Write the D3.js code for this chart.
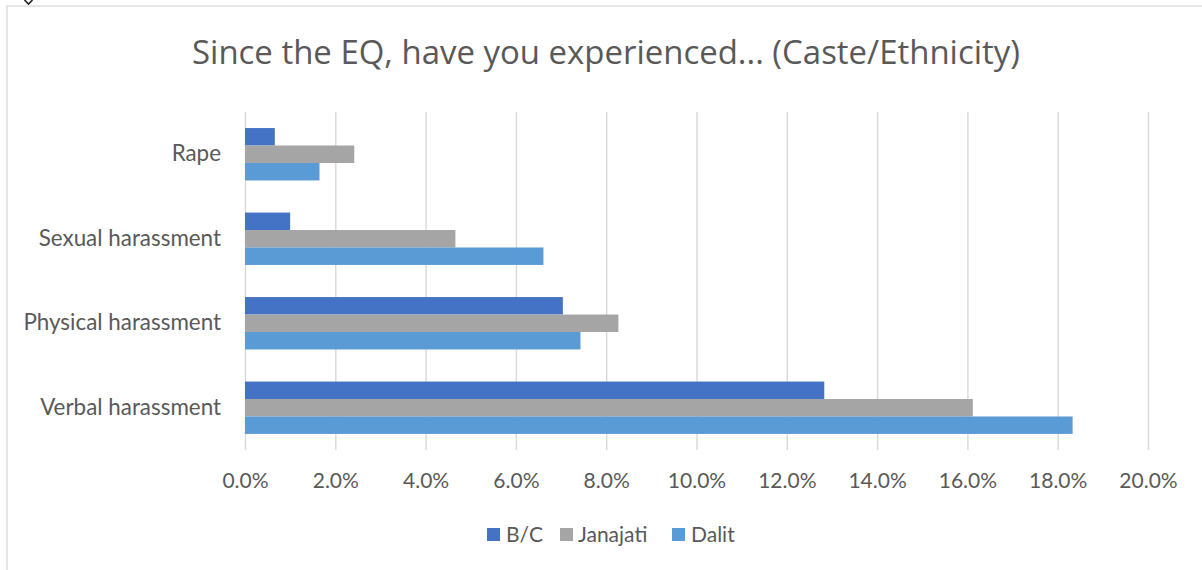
<!DOCTYPE html>
<html>
<head>
<meta charset="utf-8">
<script src="https://cdn.jsdelivr.net/npm/d3@7/dist/d3.min.js"></script>
<style>
  html, body { margin: 0; padding: 0; background: #fff; }
  svg { display: block; }
  text { font-family: Lato, "Open Sans", sans-serif; fill: #595959; }
</style>
</head>
<body>
<svg id="chart" width="1202" height="570"></svg>
<script>
// Survey results: share of respondents reporting each experience, by caste/ethnicity
const categories = ["Rape", "Sexual harassment", "Physical harassment", "Verbal harassment"];
const seriesNames = ["B/C", "Janajati", "Dalit"];
const bcValues       = [0.0066, 0.0100, 0.0704, 0.1283];
const janajatiValues = [0.0242, 0.0466, 0.0827, 0.1612];
const dalitValues    = [0.0165, 0.0661, 0.0743, 0.1833];
const tickValues = [0, 0.02, 0.04, 0.06, 0.08, 0.10, 0.12, 0.14, 0.16, 0.18, 0.20];
const colors = ["#4472C4", "#A5A5A5", "#5B9BD5"];

const seriesValues = [bcValues, janajatiValues, dalitValues];
const rows = categories.map((c, i) => ({
  category: c,
  values: seriesNames.map((s, j) => ({ series: s, value: seriesValues[j][i] }))
}));

const svg = d3.select("#chart");
const W = 1202, H = 570;
const plot = { left: 245, right: 1148, top: 112, bottom: 450 };

// chart frame
svg.append("rect")
  .attr("x", 7).attr("y", 6)
  .attr("width", W + 20).attr("height", H + 20)
  .attr("fill", "#fff").attr("stroke", "#d9d9d9").attr("stroke-width", 1.3);

// small handle mark at the top-left corner
svg.append("path")
  .attr("d", "M24.5,0 L28.5,4 L32.5,0")
  .attr("fill", "none").attr("stroke", "#222").attr("stroke-width", 1.6);

// title
svg.append("text")
  .attr("x", 606).attr("y", 64)
  .attr("text-anchor", "middle")
  .style("font-family", "'Open Sans', Lato, sans-serif")
  .style("font-size", "33px")
  .attr("textLength", 828).attr("lengthAdjust", "spacingAndGlyphs")
  .text("Since the EQ, have you experienced... (Caste/Ethnicity)");

const x = d3.scaleLinear().domain([0, 0.2]).range([plot.left, plot.right]);
const y = d3.scaleBand().domain(categories).range([plot.top, plot.bottom])
  .paddingInner(0.38).paddingOuter(0.19);
const ySub = d3.scaleBand().domain(seriesNames).range([0, y.bandwidth()]);
const color = d3.scaleOrdinal().domain(seriesNames).range(colors);

// vertical gridlines + tick labels via axis
const xAxis = d3.axisBottom(x)
  .tickValues(tickValues)
  .tickFormat(d3.format(".1%"))
  .tickSize(-(plot.bottom - plot.top))
  .tickPadding(23);

const gx = svg.append("g")
  .attr("transform", `translate(0,${plot.bottom})`)
  .call(xAxis);
gx.select(".domain").remove();
gx.selectAll(".tick line").attr("stroke", "#d9d9d9").attr("stroke-width", 1.4);
gx.selectAll(".tick text")
  .style("font-size", "21px")
  .style("font-family", "Lato, 'Open Sans', sans-serif")
  .attr("fill", "#595959");

// bars
const groups = svg.append("g").selectAll("g")
  .data(rows).join("g")
  .attr("transform", d => `translate(0,${y(d.category)})`);

groups.selectAll("rect")
  .data(d => d.values).join("rect")
  .attr("x", x(0))
  .attr("y", d => ySub(d.series))
  .attr("width", d => x(d.value) - x(0))
  .attr("height", ySub.bandwidth())
  .attr("fill", d => color(d.series));

// category labels
const yAxis = d3.axisLeft(y).tickSize(0).tickPadding(24);
const gy = svg.append("g").attr("transform", `translate(${plot.left},0)`).call(yAxis);
gy.select(".domain").remove();
gy.selectAll(".tick text")
  .style("font-size", "22.4px")
  .style("font-family", "Lato, 'Open Sans', sans-serif")
  .attr("fill", "#595959");

// legend
const legendItems = [
  { name: "B/C", sx: 487, tx: 506 },
  { name: "Janajati", sx: 560, tx: 578 },
  { name: "Dalit", sx: 672, tx: 691 }
];
const lg = svg.append("g");
lg.selectAll("rect").data(legendItems).join("rect")
  .attr("x", d => d.sx).attr("y", 528)
  .attr("width", 13).attr("height", 13)
  .attr("fill", d => color(d.name));
lg.selectAll("text").data(legendItems).join("text")
  .attr("x", d => d.tx).attr("y", 542)
  .style("font-size", "21px")
  .text(d => d.name);
</script>
</body>
</html>
